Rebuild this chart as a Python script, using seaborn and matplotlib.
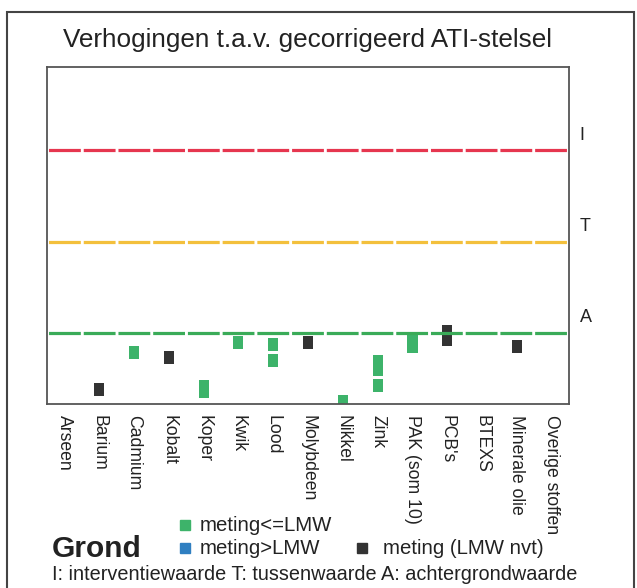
import pandas as pd
import matplotlib.pyplot as plt
import seaborn as sns
from matplotlib.lines import Line2D
from matplotlib.patches import Rectangle

# Stoffen op de x-as
stoffen = ['Arseen', 'Barium', 'Cadmium', 'Kobalt', 'Koper', 'Kwik', 'Lood',
           'Molybdeen', 'Nikkel', 'Zink', 'PAK (som 10)', "PCB's", 'BTEXS',
           'Minerale olie', 'Overige stoffen']

# Metingen (geschat uit de figuur, schaal A=1, T=2, I=3)
meting_stof = ['Barium', 'Cadmium', 'Kobalt', 'Koper', 'Koper', 'Kwik', 'Lood', 'Lood',
               'Molybdeen', 'Nikkel', 'Zink', 'Zink', 'Zink', 'PAK (som 10)',
               'PAK (som 10)', "PCB's", "PCB's", 'Minerale olie']
meting_waarde = [0.38, 0.79, 0.73, 0.42, 0.36, 0.90, 0.88, 0.70,
                 0.90, 0.25, 0.69, 0.60, 0.43, 0.91,
                 0.85, 1.02, 0.93, 0.85]
meting_type = ['nvt', 'le', 'nvt', 'le', 'le', 'le', 'le', 'le',
               'nvt', 'le', 'le', 'le', 'le', 'le',
               'le', 'nvt', 'nvt', 'nvt']

# Toetsingsniveaus
niveau_labels = ['A', 'T', 'I']
niveau_waarden = [1, 2, 3]
niveau_kleuren = ['#3aab58', '#f3c03c', '#e6364f']

kleuren = {'le': '#3db36a', 'gt': '#2f7fc1', 'nvt': '#333333'}
legenda_labels = {'le': 'meting<=LMW', 'gt': 'meting>LMW', 'nvt': 'meting (LMW nvt)'}

df = pd.DataFrame({'stof': meting_stof, 'waarde': meting_waarde, 'type': meting_type})
df['pos'] = df['stof'].map(stoffen.index)

sns.set_style('white')
plt.rcParams['font.family'] = ['Liberation Sans', 'DejaVu Sans']
plt.rcParams['lines.scale_dashes'] = False

fig = plt.figure(figsize=(6.37, 5.88), dpi=100)
ax = fig.add_axes([0.0738, 0.3129, 0.8195, 0.5731])

# Lijnen voor A, T, I (onderbroken op de categoriegrenzen)
for lab, val, kl in zip(niveau_labels, niveau_waarden, niveau_kleuren):
    ax.axhline(val, color=kl, lw=2.3, linestyle=(23.9, (22.9, 2.1)), zorder=3)
    ax.text(1.02, val + 0.165, lab, transform=ax.get_yaxis_transform(),
            fontsize=13, color='#222222', ha='left', va='center')

rechthoek = [(-0.39, -0.5), (0.39, -0.5), (0.39, 0.5), (-0.39, 0.5)]
sns.scatterplot(data=df, x='pos', y='waarde', hue='type', palette=kleuren,
                marker=rechthoek, s=88, linewidth=0, legend=False, ax=ax, zorder=2)

ax.set_xlim(-0.5, 14.5)
ax.set_ylim(0.224, 3.91)
ax.set_xticks(range(len(stoffen)))
ax.set_xticklabels(stoffen, rotation=-90, fontsize=12.7)
ax.set_yticks([])
ax.set_xlabel('')
ax.set_ylabel('')
ax.tick_params(axis='x', length=0, pad=8, colors='#222222')
for sp in ax.spines.values():
    sp.set_color('#555555')
    sp.set_linewidth(1.3)

fig.text(0.482, 0.932, 'Verhogingen t.a.v. gecorrigeerd ATI-stelsel',
         ha='center', va='center', fontsize=18.8, color='#222222')

# Legenda
leg_items = [('le', 0.2904, 0.1071, 0.314),
             ('gt', 0.2904, 0.0680, 0.314),
             ('nvt', 0.568, 0.0680, 0.601)]
for sleutel, mx, my, tx in leg_items:
    fig.add_artist(Line2D([mx], [my], marker='s', ls='', color=kleuren[sleutel],
                          markersize=7.2, transform=fig.transFigure))
    fig.text(tx, my, legenda_labels[sleutel], fontsize=14.7, color='#222222',
             ha='left', va='center')

fig.text(0.0816, 0.0527, 'Grond', fontsize=21.5, fontweight='bold', color='#222222',
         ha='left', va='baseline')
fig.text(0.0816, 0.013, 'I: interventiewaarde T: tussenwaarde A: achtergrondwaarde',
         fontsize=14.3, color='#222222', ha='left', va='baseline')

# Kader rond de figuur
fig.patches.append(Rectangle((0.011, -0.05), 0.985, 1.03, transform=fig.transFigure,
                             fill=False, edgecolor='#444444', lw=1.5))

fig.savefig('out.png', dpi=100)
